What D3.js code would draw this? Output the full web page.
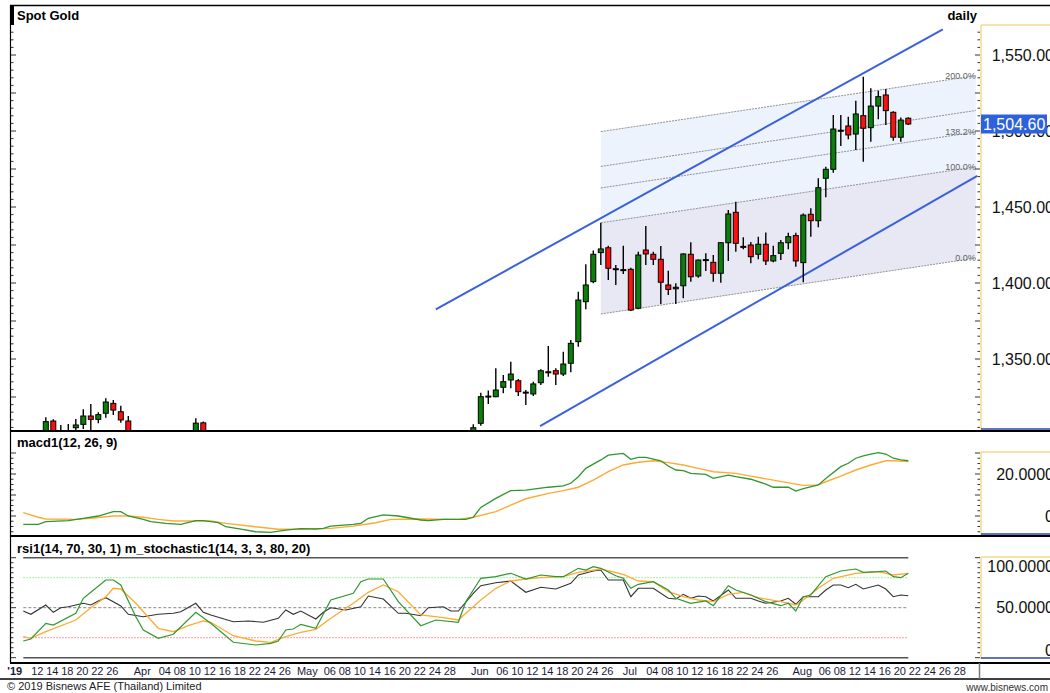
<!DOCTYPE html>
<html>
<head>
<meta charset="utf-8">
<script src="https://cdn.jsdelivr.net/npm/d3@7"></script>
<style>
body { margin: 0; background: #fff; }
svg { display: block; font-family: Arial, "Liberation Sans", sans-serif; }
</style>
</head>
<body>
<script>
// daily candles, one slot per trading day, slot 0 = 7 Mar 2019
const open = [1286,1285,1298,1290,1297,1309.2,1295,1299,1304.8,1307,1312.5,1310.3,1314.3,1320.8,1315.3,1309.2,1290,1292,1287,1291,1292,1290,1292,1297,1302.3,1308,1292,1295,1288,1276,1273,1275,1276,1277,1272,1276,1279,1286,1280,1283,1273,1270,1279,1281,1285,1281,1284,1285,1297,1296,1297,1286,1277,1277,1274,1274,1283,1285,1284,1279,1280,1288,1307.7,1325.2,1325.2,1331.4,1336.2,1335.7,1328.2,1327,1334.4,1341.2,1342.3,1340.1,1347.2,1361.4,1387.7,1400.9,1420,1423.2,1409.4,1408.4,1409,1383.4,1421.7,1418.9,1415.6,1398.7,1396.2,1398.2,1418.9,1404.6,1415.1,1413.6,1406.4,1426.5,1446.5,1424.1,1425,1418.9,1425.5,1414.5,1419.5,1426.5,1431.2,1413.4,1445.2,1441,1468.9,1474.8,1500.5,1503.3,1498,1510.1,1502.2,1516.4,1523.7,1512.3,1495.9,1508.4];
const high = [1291,1298,1299,1299,1311.6,1310.3,1306.6,1307.2,1310.5,1316.9,1320.4,1315,1324.1,1323,1319.3,1312.5,1298,1295,1294,1296,1295,1296,1301.3,1303.3,1311,1308.8,1298,1296,1289,1280,1278,1277,1280,1278,1280,1283,1288,1287,1287,1286,1275,1281,1283,1287,1288,1287,1288,1298,1298,1299,1297,1288,1280,1279,1276,1285,1287,1286,1285,1283,1290,1307,1327.8,1329.2,1343.9,1339.5,1348.2,1336.8,1329.6,1335.1,1343.2,1358.6,1343.9,1354.8,1362.5,1394.3,1412.3,1421.3,1439.7,1424.5,1411.8,1424.5,1410,1420.6,1437.5,1420.6,1424.3,1408.1,1399.8,1419.5,1426.8,1415.5,1419.5,1418.4,1427,1448,1453.5,1430.1,1427,1430.5,1433.3,1424.5,1428.3,1433.1,1433.1,1445.8,1449.1,1468.9,1476.5,1510.5,1510.5,1509.4,1519.9,1535.7,1528.1,1526.5,1527.6,1513,1508.8,1509];
const low = [1281,1283,1287,1288,1294,1292,1293,1296,1298,1304,1298,1307.7,1311.4,1313.2,1308,1288,1287,1285,1284,1285,1285,1287,1290,1294,1298,1290,1288,1286,1275,1271,1270,1273,1272,1268,1268,1274,1276,1278,1278,1272,1267,1268,1275,1278,1279,1280,1281,1283,1292,1293,1285,1275,1273,1269,1270,1273,1280,1281,1275,1277,1278,1287,1306.1,1320.4,1324.8,1327.4,1330.7,1325.7,1319.7,1325.7,1332.9,1338.4,1332.9,1338.8,1341.3,1358.1,1382.7,1399.8,1411.8,1402,1398.7,1405.9,1381.6,1382.7,1411.8,1411.8,1386.2,1392.1,1386.2,1389.9,1400.9,1403.5,1407.9,1400.9,1400.2,1414.5,1420.6,1422.2,1413,1415.6,1411.8,1413.6,1415.1,1422.2,1410.7,1400.5,1430.5,1436.6,1456.4,1472.6,1490.1,1494.5,1487.5,1479.8,1493,1507.7,1503.9,1493.6,1493,1503.9];
const close = [1285,1298,1290,1297,1308.8,1295,1299,1299.5,1306.6,1312.5,1310.3,1313.4,1321.7,1316.4,1309.9,1290,1292,1287,1291,1292,1290,1292,1297,1299,1307.8,1292,1295,1288,1276,1273,1275,1276,1277,1272,1276,1279,1286,1280,1283,1273,1270,1279,1281,1285,1281,1284,1285,1297,1296,1297,1286,1277,1277,1274,1274,1283,1285,1284,1279,1280,1288,1304.8,1325.2,1325.6,1329.6,1335.1,1340.1,1328.5,1327.8,1333.6,1342.3,1341.6,1340.1,1346.7,1360.3,1388.8,1398.7,1418.9,1422.4,1409.7,1409,1408.8,1382.2,1418.4,1419.1,1415.6,1400.5,1395.8,1397.2,1419.1,1404.1,1415.1,1415.4,1406.4,1426.5,1445.4,1426.1,1423.7,1417.3,1425.5,1414.5,1418,1426.5,1430.5,1414.5,1444.7,1441,1462.7,1474.8,1501.3,1500,1497.4,1511.2,1501.8,1516.4,1522.6,1513.4,1495.9,1507.2,1504.6];
const lastPrice = 1504.6;

// trend channel: [start slot, start price, end slot, end price]
const channelUpper = [56.0, 1382.7, 123.6, 1566.9];
const channelLower = [69.9, 1305.9, 128.2, 1470.4];

// fibonacci extension channel
const fibSlots = [78, 128];
const fibBase = [1379.6, 1416.4];   // 0%
const fibTop = [1439.6, 1476.4];    // 100%
const fibLevels = [0, 100, 138.2, 161.8, 200];
const fibLabels = ["0.0%", "100.0%", "138.2%", null, "200.0%"];

// indicator lines, [slot, value]
const macdLine = [[1,-4.0],[3,-4.0],[4,-2.7],[7,-2.2],[9,-1.1],[11,0],[13,2.1],[14,2.1],[15,0],[17,-1.6],[18,-2.7],[20,-3.5],[22,-4.0],[24,-2.2],[25,-2.2],[27,-3.2],[28,-5.1],[30,-6.3],[32,-7.5],[34,-7.8],[36,-6.7],[38,-6.0],[40,-6.2],[41,-5.9],[42,-4.8],[45,-4.0],[46,-3.5],[47,-1.1],[49,0.5],[51,0],[54,-1.9],[55,-2.2],[57,-1.6],[60,-1.6],[61,-0.6],[62,4.1],[64,8.4],[66,12.1],[68,12.3],[71,13.7],[73,14.3],[74,15.6],[75,18.7],[76,22.7],[78,26.7],[79,29.0],[81,29.8],[82,27.0],[83,27.9],[84,27.9],[86,26.3],[87,23.8],[88,21.9],[89,21.6],[90,20.3],[92,19.8],[93,17.9],[95,19.5],[96,18.7],[98,17.5],[100,15.2],[101,13.7],[103,13.7],[104,11.9],[105,13.0],[107,14.8],[108,17.9],[110,23.5],[111,25.1],[112,27.5],[113,28.6],[114,29.5],[115,30.2],[116,29.5],[117,27.5],[118,26.7],[119,26.3]];
const macdSignal = [[1,1.6],[3,-0.6],[4,-1.4],[8,-1.6],[10,-1.1],[13,0],[15,0],[17,-0.6],[19,-1.6],[21,-2.4],[26,-2.4],[28,-3.5],[32,-5.1],[35,-6.3],[38,-6.3],[42,-5.9],[45,-4.8],[48,-3.2],[50,-1.6],[54,-1.4],[59,-1.6],[61,-0.6],[64,2.1],[66,5.2],[68,8.2],[71,10.8],[73,12.1],[75,13.7],[77,17.1],[79,21.1],[81,24.3],[83,25.6],[85,26.3],[87,25.4],[89,24.3],[91,22.7],[93,21.1],[96,20.3],[98,19.0],[101,17.1],[104,15.2],[105,14.6],[107,14.8],[108,16.3],[110,19.0],[112,21.9],[114,24.3],[116,26.3],[117,26.3],[119,25.9]];
const rsiLine = [[1,46.7],[2,43.4],[4,52.7],[5,45.4],[6,50],[7,51],[9,54.4],[10,52.7],[11,56.7],[12,60],[13,56],[14,51.7],[15,43.4],[17,41],[19,43.4],[21,44.4],[22,46],[24,54.4],[25,45.4],[26,42.7],[29,36],[31,36.7],[33,35.4],[35,39.4],[36,47.7],[37,43.4],[38,46.7],[40,38.7],[41,45.4],[42,50],[44,47.7],[46,51],[47,61.7],[49,58.7],[51,44.4],[52,44.4],[54,42],[55,50],[57,51],[58,46.7],[59,46.7],[61,64.4],[62,72],[64,75],[66,76.7],[68,65.4],[70,70.4],[72,68.7],[74,74.4],[75,82.7],[77,86.7],[78,87.7],[79,77.7],[81,77.7],[82,61],[83,69.4],[85,69.4],[87,59.4],[88,58.7],[89,63.4],[90,59.4],[91,61.7],[92,61],[93,56.7],[95,67.7],[96,59.4],[98,59.4],[99,56.7],[100,54.4],[102,56.7],[103,59.4],[104,53.4],[105,61],[107,61],[108,67.7],[109,72.7],[110,72.7],[111,70],[112,73.4],[113,68.7],[115,72.7],[116,68.7],[117,61],[118,62.7],[119,62]];
const stochK = [[1,16.7],[2,18.7],[4,34.4],[5,32.7],[8,44.4],[9,59.4],[10,65.4],[12,77.7],[13,77.7],[14,72.7],[16,41],[17,27.7],[19,19.4],[21,23.4],[24,45.4],[26,34.4],[29,15.4],[32,12.7],[34,14.4],[35,16.7],[36,27.7],[37,28.7],[38,33.4],[40,29.4],[42,57.7],[45,64.4],[46,76],[47,78.7],[49,78.7],[51,56],[54,32],[56,37.7],[59,35.4],[60,56],[62,79.4],[64,81],[66,84.4],[68,78.7],[70,82.7],[72,81],[73,81],[75,89.4],[76,87.7],[77,91],[78,89.4],[80,82],[81,79.4],[82,69.4],[83,73.4],[85,76],[87,67.7],[88,59.4],[90,54.4],[92,56.7],[93,52],[95,72],[96,67.7],[98,62.7],[100,56],[102,52],[103,54.4],[104,46.7],[105,61],[106,62.7],[108,81],[110,86.7],[112,88.7],[113,85.4],[115,86],[116,86.7],[117,81],[118,80],[119,84.4]];
const stochD = [[1,21],[2,19.4],[4,26],[8,37.7],[10,50],[12,61],[13,69.4],[14,68.7],[16,54.4],[18,37.7],[19,29.4],[21,26],[23,32],[25,36.7],[26,35.4],[29,22],[32,16.7],[34,15.4],[36,21],[38,25.4],[40,28.4],[42,39.4],[45,54.4],[47,65.4],[49,72.7],[51,66],[54,42.7],[57,40],[59,37.7],[62,57.7],[64,69.4],[66,76.7],[68,78.7],[70,80],[73,81],[75,85.4],[78,88.7],[81,83.4],[83,76.7],[85,76],[87,66],[89,61],[91,57.7],[93,56],[95,63.4],[97,65.4],[99,60],[102,56],[104,52.7],[105,57.7],[107,69.4],[109,79.4],[112,84.4],[115,86],[117,82.7],[119,84.4]];
const rsiLevels = [20, 50, 80];

// date axis
const dateLabels = ["'19","12","14","18","20","22","26","Apr","04","08","10","12","16","18","22","24","26","May","06","08","10","14","16","20","22","24","28","Jun","06","10","12","14","18","20","24","26","Jul","04","08","10","12","16","18","22","24","26","Aug","06","08","12","14","16","20","22","24","26","28"];
const dateSlots = [0,3,5,7,9,11,13,17,20,22,24,26,28,30,32,34,36,39,42,44,46,48,50,52,54,56,58,62,65,67,69,71,73,75,77,79,82,85,87,89,91,93,95,97,99,101,105,108,110,112,114,116,118,120,122,124,126];

const priceTicks = [1350, 1400, 1450, 1500, 1550];
const macdTicks = [0, 20];
const rsiTicks = [0, 50, 100];

const width = 1050, height = 693;
const left = 10, plotRight = 980;

const svg = d3.select("body").append("svg")
    .attr("width", width)
    .attr("height", height);

let x = d3.scaleLinear().domain([0, 100]).range([15.8, 765.8]);
let yP = d3.scaleLinear().domain([1300, 1550]).range([435, 55]);
let yM = d3.scaleLinear().domain([0, 20]).range([516, 474]);
let yR = d3.scaleLinear().domain([0, 100]).range([657.7, 557.7]);

let defs = svg.append("defs");
defs.append("clipPath").attr("id", "clipP")
    .append("rect").attr("x", left).attr("y", 5).attr("width", plotRight - left).attr("height", 425);

let price = svg.append("g").attr("clip-path", "url(#clipP)");

// fib channel
let fibIdx = [0, 1];
let fibP = (i, lv) => fibBase[i] + (fibTop[i] - fibBase[i]) * lv / 100;
let band = (a, b) => d3.area()
    .x(i => x(fibSlots[i]))
    .y0(i => yP(fibP(i, a)))
    .y1(i => yP(fibP(i, b)));

price.append("path").attr("d", band(0, 100)(fibIdx)).attr("fill", "#e7e8f3");
price.append("path").attr("d", band(100, 200)(fibIdx)).attr("fill", "#edf3fc");

fibLevels.forEach((lv, k) => {
  price.append("line")
      .attr("x1", x(fibSlots[0])).attr("y1", yP(fibP(0, lv)))
      .attr("x2", x(fibSlots[1])).attr("y2", yP(fibP(1, lv)))
      .attr("stroke", "#777")
      .attr("stroke-width", 0.8)
      .attr("stroke-dasharray", "2,1");
  if (fibLabels[k]) {
    price.append("text")
        .attr("x", x(fibSlots[1]))
        .attr("y", yP(fibP(1, lv)) + 3)
        .attr("text-anchor", "end")
        .style("font-size", "9px")
        .style("fill", "#666")
        .text(fibLabels[k]);
  }
});

// trend channel
[channelUpper, channelLower].forEach(c => {
  price.append("line")
      .attr("x1", x(c[0])).attr("y1", yP(c[1]))
      .attr("x2", x(c[2])).attr("y2", yP(c[3]))
      .attr("stroke", "#3a60dc")
      .attr("stroke-width", 2);
});

// candles
let candles = price.selectAll("g.candle")
    .data(open.map((o, i) => ({i: i, o: o, h: high[i], l: low[i], c: close[i]})))
    .enter().append("g");

candles.append("line")
    .attr("x1", d => x(d.i)).attr("x2", d => x(d.i))
    .attr("y1", d => yP(d.h)).attr("y2", d => yP(d.l))
    .attr("stroke", "#000").attr("stroke-width", 1.4);

candles.append("rect")
    .attr("x", d => x(d.i) - 2.5)
    .attr("y", d => yP(Math.max(d.o, d.c)))
    .attr("width", 5)
    .attr("height", d => Math.max(1, yP(Math.min(d.o, d.c)) - yP(Math.max(d.o, d.c))))
    .attr("fill", d => d.c >= d.o ? "#0a800a" : "#ff1010")
    .attr("stroke", "#000").attr("stroke-width", 1);

// indicator panels
let line = yS => d3.line().x(d => x(d[0])).y(d => yS(d[1]));

svg.append("path").attr("d", line(yM)(macdSignal))
    .attr("fill", "none").attr("stroke", "#ffaa33").attr("stroke-width", 1.4);
svg.append("path").attr("d", line(yM)(macdLine))
    .attr("fill", "none").attr("stroke", "#2f972f").attr("stroke-width", 1.3);

[0, 100].forEach(v => {
  svg.append("line")
      .attr("x1", x(1)).attr("x2", x(119))
      .attr("y1", yR(v)).attr("y2", yR(v))
      .attr("stroke", "#555").attr("stroke-width", 1.6);
});
let levelColor = {20: "#ff7a7a", 50: "#888", 80: "#88e888"};
rsiLevels.forEach(v => {
  svg.append("line")
      .attr("x1", x(1)).attr("x2", x(119))
      .attr("y1", yR(v)).attr("y2", yR(v))
      .attr("stroke", levelColor[v]).attr("stroke-width", 1)
      .attr("stroke-dasharray", v === 50 ? "3,2" : "1.5,1.5");
});
svg.append("path").attr("d", line(yR)(rsiLine))
    .attr("fill", "none").attr("stroke", "#333").attr("stroke-width", 1.1);
svg.append("path").attr("d", line(yR)(stochD))
    .attr("fill", "none").attr("stroke", "#ffaa33").attr("stroke-width", 1.3);
svg.append("path").attr("d", line(yR)(stochK))
    .attr("fill", "none").attr("stroke", "#2f972f").attr("stroke-width", 1.2);

// axis ticks, left and right of each panel
function ticks(yS, values, major, x0, dir) {
  let g = svg.append("g");
  values.forEach(v => {
    let len = (Math.abs(v % major) < 1e-6) ? 5 : 2.5;
    g.append("line")
        .attr("x1", x0).attr("x2", x0 + dir * len)
        .attr("y1", yS(v)).attr("y2", yS(v))
        .attr("stroke", "#333").attr("stroke-width", 1);
  });
}
let pVals = d3.range(1305, 1566, 5);
let mVals = d3.range(-7.5, 30.1, 2.5);
let rVals = d3.range(0, 100.1, 5);
ticks(yP, pVals, 25, left + 1, 1);
ticks(yM, mVals, 10, left + 1, 1);
ticks(yR, rVals, 50, left + 1, 1);
ticks(yP, pVals, 25, plotRight, -1);
ticks(yM, mVals, 10, plotRight, -1);
ticks(yR, rVals, 50, plotRight, -1);

// right value boxes
function valueBox(top, bottom) {
  svg.append("line").attr("x1", plotRight + 1).attr("x2", plotRight + 1)
      .attr("y1", top).attr("y2", bottom).attr("stroke", "#f5d98b").attr("stroke-width", 1.5);
  svg.append("line").attr("x1", plotRight + 1).attr("x2", width)
      .attr("y1", top).attr("y2", top).attr("stroke", "#f5d98b").attr("stroke-width", 1.5);
  svg.append("line").attr("x1", plotRight + 1).attr("x2", width)
      .attr("y1", bottom - 1).attr("y2", bottom - 1).attr("stroke", "#2a44a8").attr("stroke-width", 1.5);
}
valueBox(25, 430);
valueBox(452, 535);
valueBox(557, 659);

let fmt2 = d3.format(",.2f"), fmt4 = d3.format(".4f");
let label = (v, yy, f, top, bottom) => {
  let yy2 = Math.max(top + 9, Math.min(bottom - 9, yy));
  svg.append("text")
      .attr("x", 1054).attr("y", yy2 + 5.5)
      .attr("text-anchor", "end")
      .style("font-size", "16px").style("fill", "#111")
      .text(v === 0 ? "0" : f(v));
};
priceTicks.forEach(v => label(v, yP(v), fmt2, 25, 430));
macdTicks.forEach(v => label(v, yM(v), fmt4, 452, 535));
rsiTicks.forEach(v => label(v, yR(v), fmt4, 557, 659));

// last price tag
svg.append("rect")
    .attr("x", plotRight + 1).attr("y", yP(lastPrice) - 9.5)
    .attr("width", 66).attr("height", 19)
    .attr("fill", "#2d62dc");
svg.append("text")
    .attr("x", plotRight + 3).attr("y", yP(lastPrice) + 5.5)
    .style("font-size", "16px").style("fill", "#fff")
    .text(fmt2(lastPrice));

// frame and panel separators
let frame = svg.append("g").attr("stroke", "#000");
frame.append("line").attr("x1", left).attr("x2", width).attr("y1", 5.5).attr("y2", 5.5).attr("stroke-width", 1.5);
frame.append("line").attr("x1", left + 0.5).attr("x2", left + 0.5).attr("y1", 5).attr("y2", 663).attr("stroke-width", 1.2);
frame.append("rect").attr("x", left).attr("y", 5).attr("width", 4).attr("height", 20).attr("fill", "#000").attr("stroke", "none");
[431, 536, 663].forEach(yy => {
  frame.append("line").attr("x1", left).attr("x2", width).attr("y1", yy).attr("y2", yy).attr("stroke-width", 2.2);
});
frame.append("line").attr("x1", 0).attr("x2", width).attr("y1", 679).attr("y2", 679).attr("stroke-width", 1.5);
frame.append("line").attr("x1", plotRight - 0.5).attr("x2", plotRight - 0.5).attr("y1", 663).attr("y2", 679)
    .attr("stroke", "#777").attr("stroke-width", 1.5);

// titles
let title = (t, xx, yy, anchor) => svg.append("text")
    .attr("x", xx).attr("y", yy)
    .attr("text-anchor", anchor)
    .style("font-size", "13px").style("font-weight", "bold").style("fill", "#000")
    .text(t);
title("Spot Gold", 17, 20, "start");
title("daily", 977, 20, "end");
title("macd1(12, 26, 9)", 17, 447, "start");
title("rsi1(14, 70, 30, 1) m_stochastic1(14, 3, 3, 80, 20)", 17, 553, "start");

// date labels
svg.append("g").selectAll("text")
    .data(dateLabels)
    .enter().append("text")
    .attr("x", (d, i) => x(dateSlots[i]) - 1)
    .attr("y", 675)
    .attr("text-anchor", "middle")
    .style("font-size", "11px")
    .style("font-weight", (d, i) => i === 0 ? "bold" : "normal")
    .style("fill", "#1a1a3a")
    .text(d => d);

svg.append("text")
    .attr("x", 7).attr("y", 690)
    .style("font-size", "11px").style("fill", "#222")
    .text("\u00a9 2019 Bisnews AFE (Thailand) Limited");
svg.append("text")
    .attr("x", 1048).attr("y", 691)
    .attr("text-anchor", "end")
    .style("font-size", "10px").style("fill", "#333")
    .text("www.bisnews.com");
</script>
</body>
</html>
